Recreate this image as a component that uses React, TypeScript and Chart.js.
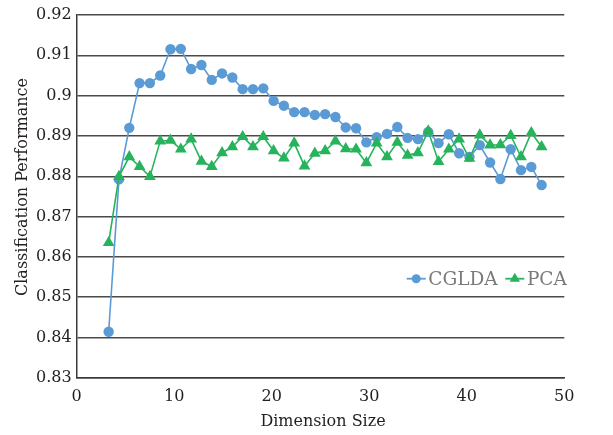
import React, { useEffect, useRef } from 'react';
import { Chart, registerables } from 'chart.js';

Chart.register(...registerables);

const dimensions = [3, 4, 5, 6, 7, 8, 9, 10, 11, 12, 13, 14, 15, 16, 17, 18, 19, 20, 21, 22, 23, 24, 25, 26, 27, 28, 29, 30, 31, 32, 33, 34, 35, 36, 37, 38, 39, 40, 41, 42, 43, 44, 45];

const cgldaValues = [
  0.8414, 0.8792, 0.8920, 0.9031, 0.9031, 0.9050, 0.9115, 0.9116, 0.9066, 0.9076,
  0.9039, 0.9055, 0.9045, 0.9016, 0.9016, 0.9018, 0.8987, 0.8975, 0.8959, 0.8959,
  0.8952, 0.8954, 0.8947, 0.8921, 0.8919, 0.8884, 0.8897, 0.8905, 0.8922, 0.8895,
  0.8892, 0.8910, 0.8882, 0.8904, 0.8857, 0.8848, 0.8877, 0.8834, 0.8793, 0.8867,
  0.8815, 0.8823, 0.8778,
];

const pcaValues = [
  0.8635, 0.8799, 0.8848, 0.8824, 0.8799, 0.8887, 0.8889, 0.8867, 0.8892, 0.8837,
  0.8824, 0.8858, 0.8873, 0.8898, 0.8873, 0.8898, 0.8863, 0.8845, 0.8882, 0.8825,
  0.8857, 0.8863, 0.8887, 0.8868, 0.8867, 0.8833, 0.8882, 0.8848, 0.8884, 0.8852,
  0.8858, 0.8912, 0.8836, 0.8867, 0.8892, 0.8844, 0.8902, 0.8877, 0.8878, 0.8901,
  0.8848, 0.8908, 0.8873,
];

const seriesNames = ['CGLDA', 'PCA'];
const xAxisTitle = 'Dimension Size';
const yAxisTitle = 'Classification Performance';

const BLUE = '#5b9bd5';
const GREEN = '#27b35c';
const TEXT = '#231f20';
const FONT = '"DejaVu Serif", serif';

function drawMarker(ctx: CanvasRenderingContext2D, style: string, x: number, y: number, r: number, color: string) {
  ctx.fillStyle = color;
  ctx.beginPath();
  if (style === 'circle') {
    ctx.arc(x, y, r, 0, Math.PI * 2);
  } else {
    ctx.moveTo(x, y - r);
    ctx.lineTo(x + r * 0.866, y + r * 0.5);
    ctx.lineTo(x - r * 0.866, y + r * 0.5);
    ctx.closePath();
  }
  ctx.fill();
}

const overlayPlugin = {
  id: 'overlay',
  afterDraw(chart: any) {
    const { ctx, chartArea: ca } = chart;
    ctx.save();
    ctx.fillStyle = TEXT;
    ctx.font = `16px ${FONT}`;
    ctx.textAlign = 'center';
    ctx.textBaseline = 'middle';
    ctx.save();
    ctx.translate(ca.left - 54, ca.top + 172);
    ctx.rotate(-Math.PI / 2);
    ctx.fillText(yAxisTitle, 0, 0);
    ctx.restore();
    ctx.fillText(xAxisTitle, (ca.left + ca.right) / 2 + 2.5, ca.bottom + 44.5);

    // legend
    const ly = ca.bottom - 99;
    let x = ca.right - 157.6;
    const items = [
      { name: seriesNames[0], color: BLUE, style: 'circle', r: 4.5 },
      { name: seriesNames[1], color: GREEN, style: 'triangle', r: 6 },
    ];
    ctx.font = `18.5px ${FONT}`;
    ctx.textAlign = 'left';
    items.forEach((it) => {
      ctx.strokeStyle = it.color;
      ctx.lineWidth = 1.8;
      ctx.beginPath();
      ctx.moveTo(x, ly);
      ctx.lineTo(x + 19, ly);
      ctx.stroke();
      drawMarker(ctx, it.style, x + 9.5, ly, it.r, it.color);
      ctx.fillStyle = '#7a7a7a';
      const tx = x + 21.6;
      ctx.fillText(it.name, tx, ly + 1);
      x = tx + ctx.measureText(it.name).width + 7.6;
    });
    ctx.restore();
  },
};

export default function App() {
  const canvasRef = useRef<HTMLCanvasElement | null>(null);

  useEffect(() => {
    if (!canvasRef.current) return;
    Chart.defaults.font.family = FONT;
    const chart = new Chart(canvasRef.current, {
      type: 'line',
      data: {
        datasets: [
          {
            label: seriesNames[0],
            data: dimensions.map((d, i) => ({ x: d, y: cgldaValues[i] })),
            xAxisID: 'x2',
            borderColor: BLUE,
            backgroundColor: BLUE,
            borderWidth: 1.6,
            pointStyle: 'circle',
            pointRadius: 5.2,
            pointBorderWidth: 0,
            pointBackgroundColor: BLUE,
            order: 1,
          },
          {
            label: seriesNames[1],
            data: dimensions.map((d, i) => ({ x: d, y: pcaValues[i] })),
            xAxisID: 'x2',
            borderColor: GREEN,
            backgroundColor: GREEN,
            borderWidth: 1.6,
            pointStyle: 'triangle',
            pointRadius: 6.8,
            pointBorderWidth: 0,
            pointBackgroundColor: GREEN,
            order: 0,
          },
        ],
      },
      options: {
        animation: false,
        responsive: true,
        maintainAspectRatio: false,
        layout: { padding: { left: 0, top: 15, right: 48.7, bottom: 0 } },
        plugins: { legend: { display: false }, tooltip: { enabled: false } },
        scales: {
          x: {
            type: 'linear',
            min: 0,
            max: 50,
            ticks: { stepSize: 10, color: TEXT, font: { size: 16, family: FONT }, padding: 10 },
            grid: { display: false, drawTicks: false },
            border: { display: true, color: '#3a3a3a', width: 1.5 },
            afterFit: (s: any) => { s.height = 57.3; },
          },
          x2: {
            type: 'linear',
            display: false,
            min: -0.1,
            max: 47.2,
          },
          y: {
            type: 'linear',
            min: 0.83,
            max: 0.92,
            ticks: {
              stepSize: 0.01,
              color: TEXT,
              font: { size: 16, family: FONT },
              padding: 5,
              callback: (v: any) => String(Number(Number(v).toFixed(2))),
            },
            grid: { color: '#4a4a4a', lineWidth: 1.4, drawTicks: false },
            border: { display: true, color: '#3a3a3a', width: 1.5 },
            afterFit: (s: any) => { s.width = 76.7; },
          },
        },
      },
      plugins: [overlayPlugin],
    } as any);
    return () => chart.destroy();
  }, []);

  return (
    <div style={{ position: 'fixed', left: 0, top: 0, width: 613, height: 435, background: '#fff' }}>
      <canvas ref={canvasRef} />
    </div>
  );
}
